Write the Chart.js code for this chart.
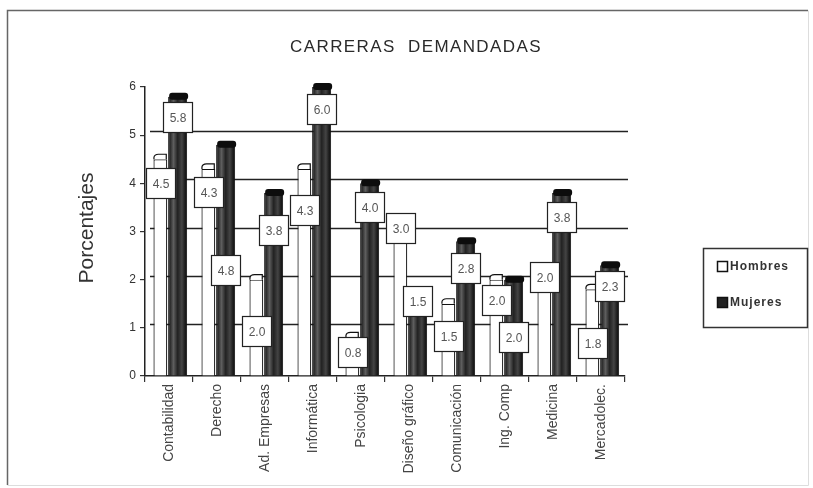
<!DOCTYPE html>
<html>
<head>
<meta charset="utf-8">
<script src="https://cdn.jsdelivr.net/npm/chart.js@4.4.1/dist/chart.umd.min.js"></script>
<style>
html,body{margin:0;padding:0;background:#fff;}
#wrap{width:813px;height:488px;position:relative;}
</style>
</head>
<body>
<div id="wrap"><canvas id="c"></canvas></div>
<script>
const chartTitle = 'CARRERAS  DEMANDADAS';
const yAxisTitle = 'Porcentajes';
const categories = ['Contabilidad','Derecho','Ad. Empresas','Informática','Psicologia','Diseño gráfico','Comunicación','Ing. Comp','Medicina','Mercadolec.'];
const seriesNames = ['Hombres','Mujeres'];
const hombres = [4.5, 4.3, 2.0, 4.3, 0.8, 3.0, 1.5, 2.0, 2.0, 1.8];
const mujeres = [5.8, 4.8, 3.8, 6.0, 4.0, 1.5, 2.8, 2.0, 3.8, 2.3];
const yTickValues = [0, 1, 2, 3, 4, 5, 6];
const gridValues = [1, 2, 3, 4, 5];

const FONT = "'Liberation Sans', Arial, sans-serif";
Chart.defaults.font.family = FONT;
Chart.defaults.color = '#333';

const CAT_PCT = 0.72;
function darkFill(ctx) {
  const chart = ctx.chart;
  const xs = chart.scales && chart.scales.x;
  if (!chart.chartArea || !xs || ctx.dataIndex == null) return '#333';
  const cw = xs.getPixelForValue(1) - xs.getPixelForValue(0);
  const slot = cw * CAT_PCT / 2;
  const c = xs.getPixelForValue(ctx.dataIndex) + slot / 2;
  const w = slot * 1.1;
  const l = c - w / 2;
  const g = chart.ctx.createLinearGradient(l, 0, l + w, 0);
  g.addColorStop(0, '#101010');
  g.addColorStop(0.12, '#2e2e2e');
  g.addColorStop(0.28, '#5e5e5e');
  g.addColorStop(0.5, '#222');
  g.addColorStop(0.72, '#444');
  g.addColorStop(0.88, '#1e1e1e');
  g.addColorStop(1, '#0c0c0c');
  return g;
}

const decor = {
  id: 'decor',
  beforeDatasetsDraw(chart) {
    const {ctx, chartArea, scales} = chart;
    ctx.save();
    ctx.strokeStyle = '#222';
    ctx.lineWidth = 1.5;
    gridValues.forEach(v => {
      const y = Math.round(scales.y.getPixelForValue(v) - 4) + 0.5;
      ctx.beginPath();
      ctx.moveTo(chartArea.left + 5, y);
      ctx.lineTo(chartArea.right + 3, y);
      ctx.stroke();
    });
    ctx.restore();
  },
  afterDatasetsDraw(chart, args, opts) {
    const {ctx, scales} = chart;
    ctx.save();
    chart.data.datasets.forEach((ds, d) => {
      const meta = chart.getDatasetMeta(d);
      meta.data.forEach(el => {
        const l = el.x - el.width / 2, r = el.x + el.width / 2, t = el.y;
        if (d === 0) {
          ctx.beginPath();
          ctx.moveTo(l + 0.5, t);
          ctx.lineTo(l + 0.5, t - 2);
          ctx.quadraticCurveTo(l + 1, t - 5, l + 5, t - 5);
          ctx.lineTo(r - 1, t - 5);
          ctx.lineTo(r - 1, t);
          ctx.fillStyle = '#fff';
          ctx.fill();
          ctx.strokeStyle = '#111';
          ctx.lineWidth = 1.2;
          ctx.stroke();
        } else {
          ctx.beginPath();
          ctx.roundRect(l + 1, t - 4, r - l, 7, 3);
          ctx.fillStyle = '#0d0d0d';
          ctx.fill();
        }
      });
    });
    ctx.font = '12px ' + FONT;
    ctx.textAlign = 'center';
    ctx.textBaseline = 'middle';
    chart.data.datasets.forEach((ds, d) => {
      const meta = chart.getDatasetMeta(d);
      meta.data.forEach((el, i) => {
        const v = ds.data[i];
        const cy = scales.y.getPixelForValue(v + opts.shift[d][i]);
        const bw = 29, bh = 30;
        const x0 = Math.round(el.x - bw / 2) + 0.5, y0 = Math.round(cy - bh / 2) + 0.5;
        ctx.fillStyle = '#fff';
        ctx.fillRect(x0, y0, bw, bh);
        ctx.strokeStyle = '#222';
        ctx.lineWidth = 1.2;
        ctx.strokeRect(x0, y0, bw, bh);
        ctx.fillStyle = '#555';
        ctx.fillText(v.toFixed(1), x0 + bw / 2, y0 + bh / 2 + 1);
      });
    });
    ctx.restore();
  },
  afterDraw(chart) {
    const {ctx} = chart;
    ctx.save();
    ctx.lineWidth = 1.5;
    ctx.strokeStyle = '#666';
    ctx.beginPath();
    ctx.moveTo(7.5, 485); ctx.lineTo(7.5, 10.5); ctx.lineTo(808, 10.5);
    ctx.stroke();
    ctx.strokeStyle = '#ddd';
    ctx.lineWidth = 1;
    ctx.beginPath();
    ctx.moveTo(808.5, 10.5); ctx.lineTo(808.5, 485.5); ctx.lineTo(7.5, 485.5);
    ctx.stroke();
    ctx.fillStyle = '#2a2a2a';
    ctx.font = '17px ' + FONT;
    ctx.letterSpacing = '1.4px';
    ctx.textAlign = 'center';
    ctx.textBaseline = 'middle';
    ctx.fillText(chartTitle, 416, 47);
    ctx.letterSpacing = '0px';
    ctx.save();
    ctx.translate(87, 228);
    ctx.rotate(-Math.PI / 2);
    ctx.font = '21px ' + FONT;
    ctx.fillStyle = '#333';
    ctx.fillText(yAxisTitle, 0, 0);
    ctx.restore();
    ctx.strokeStyle = '#333';
    ctx.lineWidth = 1.5;
    ctx.strokeRect(703.5, 248.5, 104, 79);
    const items = [{y: 267, fill: '#fff'}, {y: 303, fill: '#222'}];
    ctx.font = 'bold 12px ' + FONT;
    ctx.letterSpacing = '1px';
    ctx.textAlign = 'left';
    items.forEach((it, k) => {
      ctx.fillStyle = it.fill;
      ctx.fillRect(717.5, it.y - 5.5, 10, 10);
      ctx.strokeStyle = '#111';
      ctx.lineWidth = 1.5;
      ctx.strokeRect(717.5, it.y - 5.5, 10, 10);
      ctx.fillStyle = '#333';
      ctx.fillText(seriesNames[k], 730, it.y);
    });
    ctx.restore();
  }
};

new Chart(document.getElementById('c'), {
  type: 'bar',
  data: {
    labels: categories,
    datasets: [
      {
        label: seriesNames[0],
        data: hombres,
        backgroundColor: '#fff',
        borderColor: '#111',
        borderWidth: 1.2,
        borderSkipped: 'bottom',
        barPercentage: 0.8,
        categoryPercentage: CAT_PCT
      },
      {
        label: seriesNames[1],
        data: mujeres,
        backgroundColor: darkFill,
        borderColor: '#111',
        borderWidth: 1,
        borderSkipped: 'bottom',
        barPercentage: 1.1,
        categoryPercentage: CAT_PCT
      }
    ]
  },
  options: {
    responsive: true,
    maintainAspectRatio: false,
    animation: false,
    layout: { padding: { left: 0, right: 188, top: 87, bottom: 0 } },
    plugins: {
      legend: { display: false },
      title: { display: false },
      tooltip: { enabled: false },
      decor: {
        shift: [
          [-0.5, -0.48, -1.07, -0.86, -0.3, 0.07, -0.67, -0.42, 0.05, -1.12],
          [-0.43, -2.6, -0.77, -0.46, -0.5, 0.06, -0.56, -1.2, -0.5, -0.43]
        ]
      }
    },
    scales: {
      x: {
        offset: true,
        grid: { display: true, drawOnChartArea: false, drawTicks: true, tickLength: 6, color: '#333', lineWidth: 1.2, offset: true },
        border: { display: true, color: '#222', width: 1.5 },
        ticks: { font: { size: 14 }, color: '#444', minRotation: 90, maxRotation: 90, padding: 2, autoSkip: false },
        afterFit(s) { s.height = 112; }
      },
      y: {
        min: 0, max: 6,
        afterBuildTicks(s) { s.ticks = yTickValues.map(v => ({value: v})); },
        grid: { display: true, drawOnChartArea: false, drawTicks: true, tickLength: 5, color: '#333', lineWidth: 1.2 },
        border: { display: true, color: '#222', width: 1.5 },
        ticks: { font: { size: 12 }, color: '#333', padding: 4 },
        afterFit(s) { s.width = 145; }
      }
    }
  },
  plugins: [decor]
});
</script>
</body>
</html>
